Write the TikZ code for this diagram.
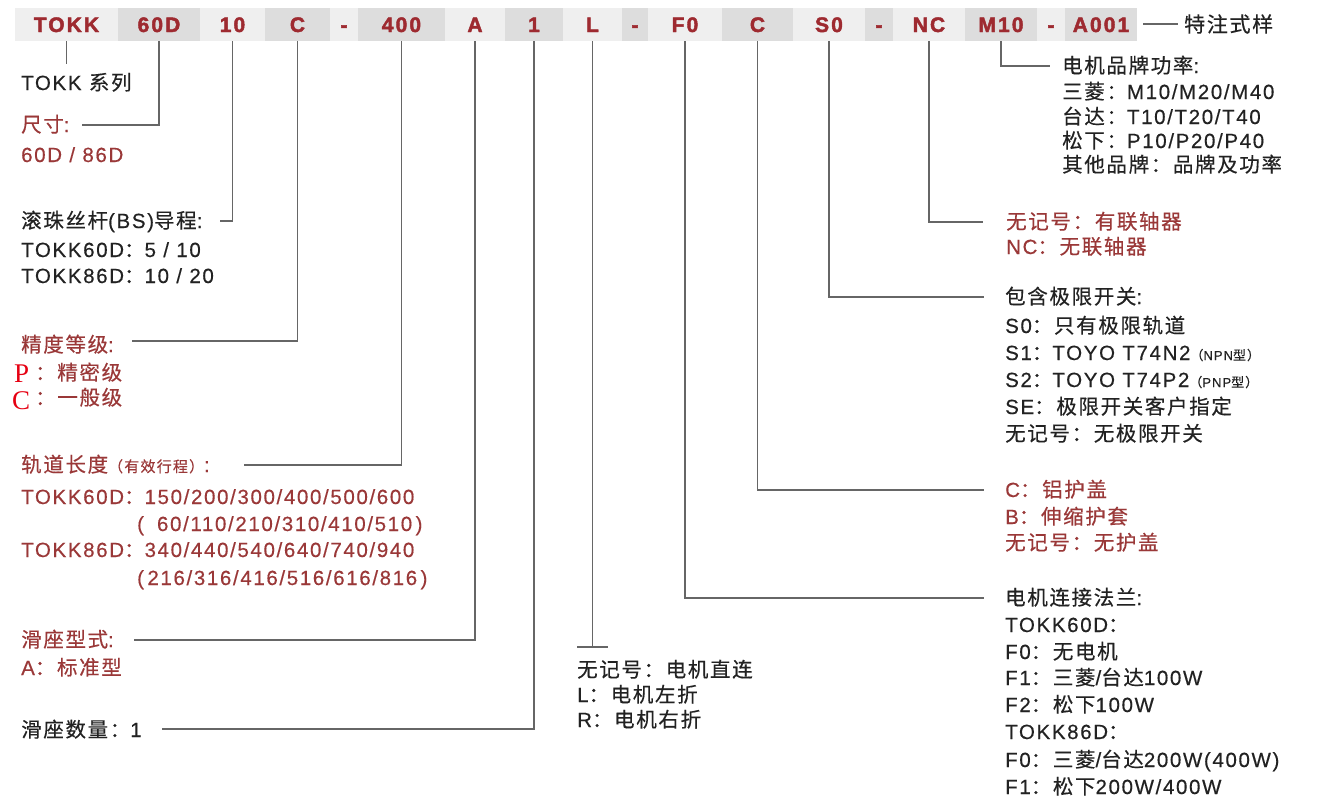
\documentclass[tikz,border=0pt]{standalone}
\usepackage{fontspec}
\setmainfont{Liberation Sans}[LetterSpace=8, FakeBold=0.4]
\newfontfamily\cjkf{Noto Sans CJK SC}[LetterSpace=8, FakeBold=0.4]
\newfontfamily\serf{Liberation Serif}
\newfontfamily\barf{Liberation Sans Bold}[LetterSpace=10, FakeBold=2]
\XeTeXinterchartokenstate=1
\newXeTeXintercharclass\CJKcls
\newcount\cjkcnt
\def\setcjkrange#1#2{\cjkcnt=#1\relax\loop\XeTeXcharclass\cjkcnt=\CJKcls\relax\ifnum\cjkcnt<#2\relax\advance\cjkcnt by 1\relax\repeat}
\setcjkrange{"3000}{"303F}
\setcjkrange{"4E00}{"9FFF}
\setcjkrange{"FF01}{"FF60}
\XeTeXinterchartoks 0 \CJKcls = {\begingroup\cjkf}
\XeTeXinterchartoks 4095 \CJKcls = {\begingroup\cjkf}
\XeTeXinterchartoks \CJKcls 0 = {\endgroup}
\XeTeXinterchartoks \CJKcls 4095 = {\endgroup}
\definecolor{barred}{HTML}{9E2A30}
\definecolor{txtred}{HTML}{9A3838}
\definecolor{txtblack}{HTML}{222222}
\definecolor{brightred}{HTML}{E60012}
\definecolor{linegray}{HTML}{666666}
\definecolor{boxlight}{HTML}{EFEFEF}
\definecolor{boxdark}{HTML}{DDDDDD}
\tikzset{
  lbl/.style={anchor=base west, inner sep=0, font=\fontsize{20.5}{22}\selectfont, text=txtblack},
  rlbl/.style={lbl, text=txtred},
  bx/.style={inner sep=0, minimum height=33, text height=15, text depth=0,
    font=\barf\fontsize{21}{21}\selectfont, text=barred},
  lt/.style={bx, fill=boxlight},
  dk/.style={bx, fill=boxdark},
  conn/.style={draw=linegray, line width=1.3},
  serP/.style={anchor=base west, inner sep=0, font=\serf\fontsize{27}{27}\selectfont, text=brightred}
}
\begin{document}
\begin{tikzpicture}[x=1pt, y=-1pt]
\fill[white] (0,0) rectangle (1317,811);
\useasboundingbox (0,0) rectangle (1317,811);
% ---- code bar ----
\node[lt, minimum width=103] (bTOKK) at (66.5,24.5) {TOKK};
\node[dk, minimum width=82]  (b60D)  at (159,24.5) {60D};
\node[lt, minimum width=65]  (b10)   at (232.5,24.5) {10};
\node[dk, minimum width=65]  (bC)    at (297.5,24.5) {C};
\node[lt, minimum width=28]  (bd1)   at (344,24.5) {-};
\node[dk, minimum width=87]  (b400)  at (401.5,24.5) {400};
\node[lt, minimum width=60]  (bA)    at (475,24.5) {A};
\node[dk, minimum width=58]  (b1)    at (534,24.5) {1};
\node[lt, minimum width=59]  (bL)    at (592.5,24.5) {L};
\node[dk, minimum width=26]  (bd2)   at (635,24.5) {-};
\node[lt, minimum width=74]  (bF0)   at (685,24.5) {F0};
\node[dk, minimum width=71]  (bC2)   at (757.5,24.5) {C};
\node[lt, minimum width=72]  (bS0)   at (829,24.5) {S0};
\node[dk, minimum width=28]  (bd3)   at (879,24.5) {-};
\node[lt, minimum width=72]  (bNC)   at (929,24.5) {NC};
\node[dk, minimum width=72]  (bM10)  at (1001,24.5) {M10};
\node[lt, minimum width=28]  (bd4)   at (1051,24.5) {-};
\node[dk, minimum width=72]  (bA001) at (1101,24.5) {A001};
\node[anchor=west, inner xsep=6, inner ysep=0, font=\fontsize{21}{21}\selectfont, text=txtblack] (tSpec) at (1178,24) {特注式样};
\coordinate (eSpec) at (1143,24);
\draw[conn] (eSpec) -- (tSpec.west);
% ---- left column ----
\node[lbl] (tTOKK) at (21,90) {TOKK 系列};
\node[rlbl] (tSize1) at (21,132) {尺寸:};
\node[rlbl] (tSize2) at (21,162) {60D / 86D};
\node[lbl] (tLead1) at (21,228) {滚珠丝杆(BS)导程:};
\node[lbl] (tLead2) at (21,257) {TOKK60D：5 / 10};
\node[lbl] (tLead3) at (21,283) {TOKK86D：10 / 20};
\node[rlbl] (tAcc1) at (21,352) {精度等级:};
\node[serP] (tAccP) at (14,382) {P};
\node[rlbl] (tAccPt) at (35,380) {：精密级};
\node[serP] (tAccC) at (12,409) {C};
\node[rlbl] (tAccCt) at (35,405) {：一般级};
\node[rlbl] (tLen1) at (21,472) {轨道长度{\fontsize{15}{15}\selectfont（有效行程）}:};
\node[rlbl] (tLen2) at (21,504) {TOKK60D：150/200/300/400/500/600};
\node[rlbl] (tLen3) at (137,531) {(\hspace{13pt}60/110/210/310/410/510\,)};
\node[rlbl] (tLen4) at (21,557) {TOKK86D：340/440/540/640/740/940};
\node[rlbl] (tLen5) at (137,585) {(\,216/316/416/516/616/816\,)};
\node[rlbl] (tSlide1) at (21,647) {滑座型式:};
\node[rlbl] (tSlide2) at (21,675) {A：标准型};
\node[lbl] (tQty) at (21,737) {滑座数量：1};
% ---- middle ----
\node[lbl] (tMot1) at (577,677) {无记号：电机直连};
\node[lbl] (tMot2) at (577,702) {L：电机左折};
\node[lbl] (tMot3) at (577,727) {R：电机右折};
% ---- right column ----
\node[lbl] (tBr1) at (1062,73) {电机品牌功率:};
\node[lbl] (tBr2) at (1062,99) {三菱：M10/M20/M40};
\node[lbl] (tBr3) at (1062,124) {台达：T10/T20/T40};
\node[lbl] (tBr4) at (1062,148) {松下：P10/P20/P40};
\node[lbl] (tBr5) at (1062,172) {其他品牌：品牌及功率};
\node[rlbl] (tCp1) at (1006,229) {无记号：有联轴器};
\node[rlbl] (tCp2) at (1006,254) {NC：无联轴器};
\node[lbl] (tLim1) at (1005,304) {包含极限开关:};
\node[lbl] (tLim2) at (1005,333) {S0：只有极限轨道};
\node[lbl] (tLim3) at (1005,360) {S1：TOYO T74N2{\fontsize{13}{13}\selectfont（NPN型）}};
\node[lbl] (tLim4) at (1005,387) {S2：TOYO T74P2{\fontsize{13}{13}\selectfont（PNP型）}};
\node[lbl] (tLim5) at (1005,414) {SE：极限开关客户指定};
\node[lbl] (tLim6) at (1005,441) {无记号：无极限开关};
\node[rlbl] (tCov1) at (1005,497) {C：铝护盖};
\node[rlbl] (tCov2) at (1005,524) {B：伸缩护套};
\node[rlbl] (tCov3) at (1005,550) {无记号：无护盖};
\node[lbl] (tFl1) at (1005,605) {电机连接法兰:};
\node[lbl] (tFl2) at (1005,632) {TOKK60D：};
\node[lbl] (tFl3) at (1005,659) {F0：无电机};
\node[lbl] (tFl4) at (1005,685) {F1：三菱/台达100W};
\node[lbl] (tFl5) at (1005,712) {F2：松下100W};
\node[lbl] (tFl6) at (1005,739) {TOKK86D：};
\node[lbl] (tFl7) at (1005,767) {F0：三菱/台达200W(400W)};
\node[lbl] (tFl8) at (1005,794) {F1：松下200W/400W};
% ---- connector ends ----
\coordinate (eTOKK) at (66.5,64);
\coordinate (e60D) at (82,125);
\coordinate (e10) at (220,221);
\coordinate (eC) at (132,341);
\coordinate (e400) at (244,465);
\coordinate (eA) at (134,640);
\coordinate (e1) at (162,729);
\coordinate (eL) at (592.5,647);
\coordinate (eLa) at (577,647);
\coordinate (eLb) at (608,647);
\coordinate (eF0) at (984,598);
\coordinate (eC2) at (984,490);
\coordinate (eS0) at (984,297);
\coordinate (eNC) at (983,222);
\coordinate (eM10) at (1050,66);
% ---- connectors ----
\draw[conn] (bTOKK.south) -- (eTOKK);
\draw[conn] (b60D.south) |- (e60D);
\draw[conn] (b10.south) |- (e10);
\draw[conn] (bC.south) |- (eC);
\draw[conn] (b400.south) |- (e400);
\draw[conn] (bA.south) |- (eA);
\draw[conn] (b1.south) |- (e1);
\draw[conn] (bL.south) -- (eL);
\draw[conn] (eLa) -- (eLb);
\draw[conn] (bF0.south) |- (eF0);
\draw[conn] (bC2.south) |- (eC2);
\draw[conn] (bS0.south) |- (eS0);
\draw[conn] (bNC.south) |- (eNC);
\draw[conn] (bM10.south) |- (eM10);
\end{tikzpicture}
\end{document}
